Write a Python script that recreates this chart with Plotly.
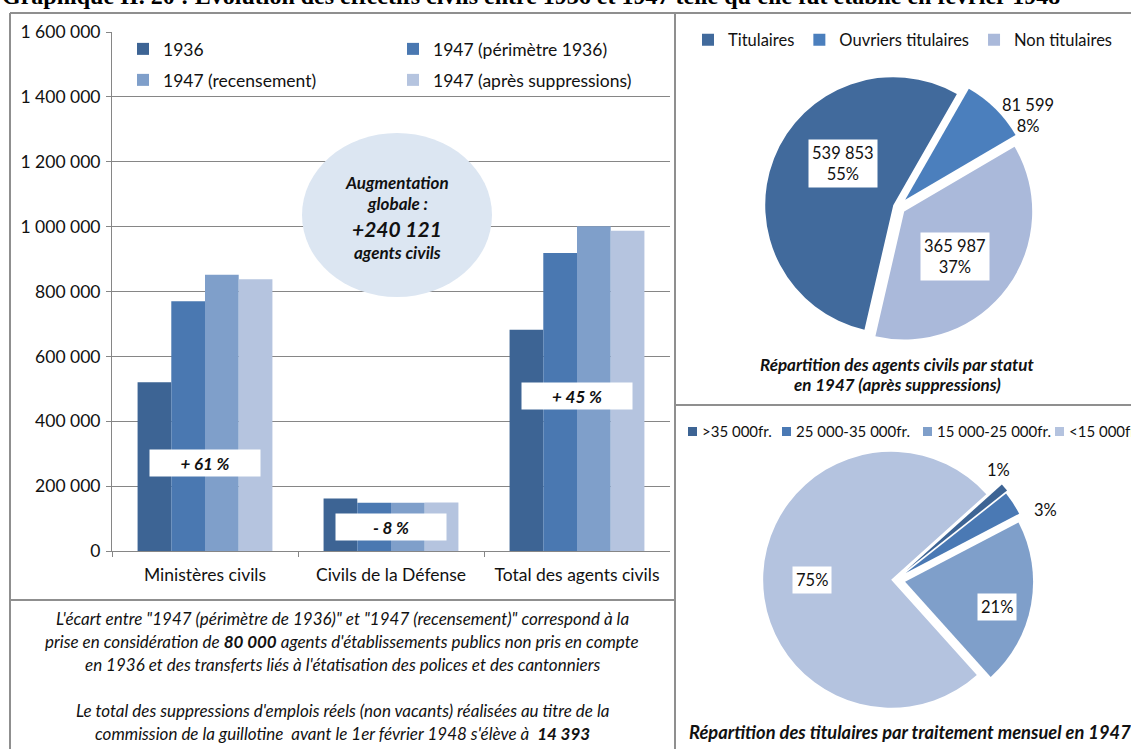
import plotly.graph_objects as go

W, H = 1131, 749

# ---- data -------------------------------------------------------------
categories = ["Ministères civils", "Civils de la Défense", "Total des agents civils"]
series_names = ["1936", "1947 (périmètre 1936)", "1947 (recensement)", "1947 (après suppressions)"]
effectifs_1936 = [520000, 162000, 682000]
effectifs_1947_perimetre = [770000, 149000, 919000]
effectifs_1947_recensement = [852000, 149000, 1001000]
effectifs_1947_apres = [838000, 149439, 987439]
y_ticks = [0, 200000, 400000, 600000, 800000, 1000000, 1200000, 1400000, 1600000]
augmentation_globale = 240121

statut_labels = ["Titulaires", "Ouvriers titulaires", "Non titulaires"]
statut_values = [539853, 81599, 365987]

traitement_labels = [">35 000fr.", "25 000-35 000fr.", "15 000-25 000fr.", "<15 000fr."]
traitement_values = [1, 3, 21, 75]

# ---- style ------------------------------------------------------------
FONT = "Lato, 'Open Sans', sans-serif"
TEXT = "#111"
bar_colors = ["#3d6494", "#4a78b1", "#7f9fca", "#b5c4df"]
statut_colors = ["#416a9c", "#4b7fbd", "#aab9da"]
traitement_colors = ["#3d6494", "#4a79b4", "#7f9fca", "#b4c3df"]
frame_color = "#8f8f8f"
axis_color = "#868686"


def px_x(x):
    return x / W


def px_y(y):
    return 1 - y / H


def fmt_int(v):
    return f"{v:,}".replace(",", " ")


def note(x, y, text, size, **kw):
    """Text placed in page pixels (centred unless told otherwise)."""
    d = dict(x=px_x(x), y=px_y(y), xref="paper", yref="paper", showarrow=False,
             xanchor="center", yanchor="middle", text=text,
             font=dict(family=FONT, size=size, color=TEXT))
    d.update(kw)
    return d


fig = go.Figure()

# ---- grouped bars -----------------------------------------------------
series_values = [effectifs_1936, effectifs_1947_perimetre,
                 effectifs_1947_recensement, effectifs_1947_apres]
bar_legends = ["legend", "legend", "legend2", "legend2"]
for name, vals, col, leg in zip(series_names, series_values, bar_colors, bar_legends):
    fig.add_trace(go.Bar(
        x=categories, y=vals, name=name, marker=dict(color=col, line=dict(width=0)),
        legend=leg, hoverinfo="x+y+name",
    ))

# ---- pies -------------------------------------------------------------
def pie_domain(cx, cy, r, pulls):
    half = r * (1 + max(pulls))
    return dict(x=[px_x(cx - half), px_x(cx + half)],
                y=[px_y(cy + half), px_y(cy - half)])


statut_pull = [0.04, 0.08, 0.06]
fig.add_trace(go.Pie(
    labels=statut_labels, values=statut_values, sort=False, direction="clockwise",
    rotation=-167, pull=statut_pull, marker=dict(colors=statut_colors, line=dict(width=0)),
    textinfo="none", domain=pie_domain(898, 207, 128, statut_pull), legend="legend3",
))

traitement_pull = [0.12, 0.10, 0.08, 0.03]
fig.add_trace(go.Pie(
    labels=traitement_labels, values=traitement_values, sort=False, direction="clockwise",
    rotation=48, pull=traitement_pull, marker=dict(colors=traitement_colors, line=dict(width=0)),
    textinfo="none", domain=pie_domain(895, 580, 128, traitement_pull), showlegend=False,
))

annotations = []
shapes = []

# pie data labels
statut_total = sum(statut_values)
statut_label_pos = [(843, 164), (1028, 116), (955, 256)]
statut_label_bg = ["white", "rgba(0,0,0,0)", "white"]
for v, (x, y), bg in zip(statut_values, statut_label_pos, statut_label_bg):
    annotations.append(note(x, y, f"{fmt_int(v)}<br>{round(100 * v / statut_total)}%", 16.5,
                            bgcolor=bg, borderpad=3))

traitement_total = sum(traitement_values)
traitement_label_pos = [(998, 470), (1045, 510), (997, 607), (812, 580)]
traitement_label_bg = ["rgba(0,0,0,0)", "rgba(0,0,0,0)", "white", "white"]
for v, (x, y), bg in zip(traitement_values, traitement_label_pos, traitement_label_bg):
    annotations.append(note(x, y, f"{round(100 * v / traitement_total)}%", 16.5,
                            bgcolor=bg, borderpad=3))

# key for the salary pie: small swatch + label, running off the right edge
traitement_key_x = [688, 782, 923, 1055]
for lab, col, kx in zip(traitement_labels, traitement_colors, traitement_key_x):
    shapes.append(dict(type="rect", xref="paper", yref="paper",
                       x0=px_x(kx), x1=px_x(kx + 9), y0=px_y(436), y1=px_y(427),
                       fillcolor=col, line=dict(width=0)))
    annotations.append(note(kx + 12, 431, lab, 15, xanchor="left"))

# evolution labels on the bars
evolution_label_y = [463, 527, 396]
for cat, v0, v1, y in zip(categories, effectifs_1936, effectifs_1947_apres, evolution_label_y):
    pct = round((v1 / v0 - 1) * 100)
    sign = "+" if pct >= 0 else "-"
    annotations.append(dict(
        x=cat, xref="x", y=px_y(y), yref="paper", showarrow=False,
        xanchor="center", yanchor="middle",
        text=f"<b><i>{sign} {abs(pct)} %</i></b>", width=104, height=20, borderpad=3,
        bgcolor="white", font=dict(family=FONT, size=17, color=TEXT),
    ))

# bubble text
annotations += [
    note(397, 182, "<b><i>Augmentation</i></b>", 17),
    note(397, 204, "<b><i>globale :</i></b>", 17),
    note(397, 228, f"<b><i>+{fmt_int(augmentation_globale)}</i></b>", 21),
    note(397, 252, "<b><i>agents civils</i></b>", 17),
]

# explanatory notes
note_lines = [
    ("<i>L'écart entre \"1947 (périmètre de 1936)\" et \"1947 (recensement)\" correspond à la</i>", 618),
    ("<i>prise en considération de <b>80 000</b> agents d'établissements publics non pris en compte</i>", 641),
    ("<i>en 1936 et des transferts liés à l'étatisation des polices et des cantonniers</i>", 664),
    ("<i>Le total des suppressions d'emplois réels (non vacants) réalisées au titre de la</i>", 710),
    ("<i>commission de la guillotine  avant le 1er février 1948 s'élève à  <b>14 393</b></i>", 733),
]
for txt, y in note_lines:
    annotations.append(note(342, y, txt, 17))

# pie titles
annotations += [
    note(897, 364, "<b><i>Répartition des agents civils par statut</i></b>", 17),
    note(897, 384, "<b><i>en 1947 (après suppressions)</i></b>", 17),
    note(910, 732, "<b><i>Répartition des titulaires par traitement mensuel en 1947</i></b>", 18.3),
]

# page title
annotations.append(dict(
    x=0, xanchor="left", y=px_y(-4), yanchor="middle", yref="paper", xref="paper",
    showarrow=False,
    text="<b>Graphique II. 20 : Évolution des effectifs civils entre 1936 et 1947 "
         "telle qu'elle fut établie en février 1948</b>",
    font=dict(family="'Liberation Serif', 'Times New Roman', serif", size=24, color="#000"),
))

# ---- shapes: frame, dividers, bubble -----------------------------------
def line(x0, y0, x1, y1):
    return dict(type="line", xref="paper", yref="paper",
                x0=px_x(x0), y0=px_y(y0), x1=px_x(x1), y1=px_y(y1),
                line=dict(color=frame_color, width=2))


shapes += [
    line(10, 13, 1131, 13),
    line(10, 13, 10, 749),
    line(675, 13, 675, 749),
    line(10, 600, 675, 600),
    line(675, 405, 1131, 405),
    dict(type="circle", xref="paper", yref="paper",
         x0=px_x(302), x1=px_x(492), y0=px_y(297), y1=px_y(133),
         fillcolor="#dce6f2", line=dict(width=0), layer="above"),
]

legend_font = dict(family=FONT, size=17.5, color=TEXT)
fig.update_layout(
    width=W, height=H,
    margin=dict(l=0, r=0, t=0, b=0, autoexpand=False),
    paper_bgcolor="white", plot_bgcolor="white",
    separators=", ",
    barmode="group", bargap=0.275, bargroupgap=0,
    xaxis=dict(domain=[px_x(112), px_x(670)], type="category",
               showline=True, linecolor=axis_color, linewidth=1,
               ticks="outside", ticklen=5, tickcolor=axis_color, tickson="boundaries",
               tickfont=dict(family=FONT, size=17.5, color=TEXT), ticklabelstandoff=8,
               showgrid=False, fixedrange=True),
    yaxis=dict(domain=[px_y(551), px_y(32)], range=[0, 1600000],
               tickvals=y_ticks, tickformat=",d",
               showline=True, linecolor=axis_color, linewidth=1,
               ticks="outside", ticklen=5, tickcolor=axis_color,
               gridcolor=axis_color, gridwidth=1, zeroline=False,
               tickfont=dict(family=FONT, size=17.5, color=TEXT), ticklabelstandoff=2,
               fixedrange=True),
    legend=dict(orientation="h", x=px_x(123), xanchor="left", y=px_y(49), yanchor="middle",
                entrywidth=225, itemwidth=30, font=legend_font, bgcolor="rgba(0,0,0,0)"),
    legend2=dict(orientation="h", x=px_x(123), xanchor="left", y=px_y(80), yanchor="middle",
                 entrywidth=225, itemwidth=30, font=legend_font, bgcolor="rgba(0,0,0,0)"),
    legend3=dict(orientation="h", x=px_x(688), xanchor="left", y=px_y(40), yanchor="middle",
                 itemwidth=30, font=dict(family=FONT, size=16.5, color=TEXT),
                 bgcolor="rgba(0,0,0,0)"),
    annotations=annotations,
    shapes=shapes,
)

fig.write_html("out.html")
